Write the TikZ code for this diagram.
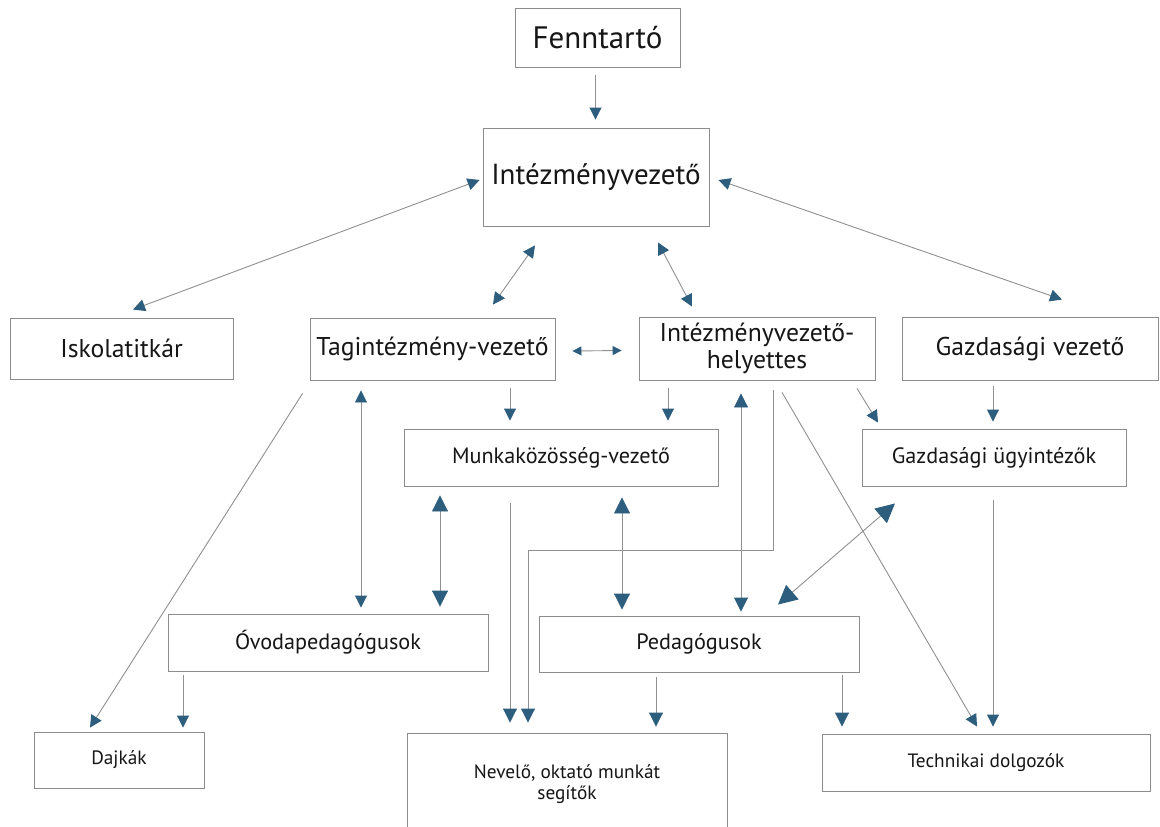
\documentclass[tikz,border=0pt]{standalone}
\usepackage{fontspec}
\setmainfont{PT Sans}
\usetikzlibrary{arrows.meta}
\definecolor{boxgray}{HTML}{8C8C8C}
\definecolor{linegray}{HTML}{909090}
\definecolor{tipblue}{HTML}{2E5E7E}
\definecolor{txt}{HTML}{161616}
\begin{document}
\begin{tikzpicture}[x=1pt,y=-1pt,
    box/.style={draw=boxgray,line width=0.9pt,inner sep=0pt,text=txt,align=center},
    fa/.style={font=\fontsize{29}{30}\selectfont},
    fb/.style={font=\fontsize{25.7}{27}\selectfont},
    fc/.style={font=\fontsize{22.2}{23}\selectfont},
    fd/.style={font=\fontsize{19.3}{21}\selectfont},
    arr/.style={draw=linegray,line width=0.9pt,-{Triangle[length=#1,width=#1,color=tipblue]}},
    arr/.default=12pt,
    darr/.style={draw=linegray,line width=0.9pt,{Triangle[length=#1,width=#1,color=tipblue]}-{Triangle[length=#1,width=#1,color=tipblue]}},
    darr/.default=12pt]
    \useasboundingbox (0,0) rectangle (1160,827);
    \clip (0,0) rectangle (1160,827);
    \fill[white] (0,0) rectangle (1160,827);

    \node[box,fa,minimum width=165pt,minimum height=59pt] (fenn) at (597.5,37.5) {\fontsize{31}{32}\selectfont Fenntartó};
    \node[box,fa,minimum width=226pt,minimum height=98pt] (iv) at (596,177) {Intézményvezető};
    \node[box,fb,minimum width=223pt,minimum height=61pt] (isk) at (121.5,348.5) {Iskolatitkár};
    \node[box,fb,minimum width=245pt,minimum height=62pt] (tag) at (432.5,349) {Tagintézmény-vezető};
    \node[box,fb,minimum width=236pt,minimum height=63pt] (hely) at (757,348.5) {Intézményvezető-\\helyettes};
    \node[box,fb,minimum width=256pt,minimum height=63pt] (gv) at (1030,348.5) {Gazdasági vezető};
    \node[box,fc,minimum width=314pt,minimum height=57pt] (mk) at (561,457.5) {Munkaközösség-vezető};
    \node[box,fc,minimum width=264pt,minimum height=57pt] (gu) at (994,457.5) {Gazdasági ügyintézők};
    \node[box,fc,minimum width=320pt,minimum height=57pt] (ovoda) at (328,642.5) {Óvodapedagógusok};
    \node[box,fc,minimum width=320pt,minimum height=56pt] (ped) at (699,644) {Pedagógusok};
    \node[box,fd,minimum width=170pt,minimum height=56pt] (dajka) at (119,760) {Dajkák};
    \node[box,fd,minimum width=320pt,minimum height=102pt] (nevelo) at (567,784) {Nevelő, oktató munkát\\segítők};
    \node[box,fd,minimum width=328pt,minimum height=57pt] (tech) at (986,762.5) {Technikai dolgozók};

    \draw[arr] ([xshift=-2pt,yshift=-8pt]fenn.south) -- ([xshift=-0.5pt,yshift=8pt]iv.north);
    \draw[darr] ([xshift=-3pt,yshift=-3pt]iv.west) -- ([xshift=11.5pt,yshift=8pt]isk.north);
    \draw[darr] ([xshift=-61pt,yshift=-19pt]iv.south) -- ([xshift=60.5pt,yshift=13pt]tag.north);
    \draw[darr] ([xshift=62pt,yshift=-16pt]iv.south) -- ([xshift=-65pt,yshift=10pt]hely.north);
    \draw[darr] ([xshift=9pt,yshift=-3pt]iv.east) -- ([xshift=32pt,yshift=17pt]gv.north);
    \draw[darr=9pt] ([xshift=17pt,yshift=-2pt]tag.east) -- ([xshift=-17pt,yshift=-2pt]hely.west);
    \draw[arr] ([xshift=77.5pt,yshift=-8pt]tag.south) -- ([xshift=-51pt,yshift=8pt]mk.north);
    \draw[arr] ([xshift=-89pt,yshift=-8pt]hely.south) -- ([xshift=107pt,yshift=8pt]mk.north);
    \draw[arr] ([xshift=100pt,yshift=-8pt]hely.south) -- ([xshift=-116pt,yshift=6pt]gu.north);
    \draw[arr] ([xshift=-37pt,yshift=-6pt]gv.south) -- ([xshift=-1pt,yshift=7pt]gu.north);
    \draw[arr] ([xshift=-7pt,yshift=-13pt]tag.south west) -- ([xshift=-29pt,yshift=4pt]dajka.north);
    \draw[darr] ([xshift=-71.5pt,yshift=-10pt]tag.south) -- ([xshift=33pt,yshift=6pt]ovoda.north);
    \draw[darr=16pt] ([xshift=-121pt,yshift=-9pt]mk.south) -- ([xshift=112pt,yshift=7pt]ovoda.north);
    \draw[arr=14pt] ([xshift=-51pt,yshift=-17pt]mk.south) -- ([xshift=-57pt,yshift=10pt]nevelo.north);
    \draw[arr=14pt] ([xshift=16pt,yshift=-10pt]hely.south) -- ++(0pt,-160pt) -| ([xshift=-39pt,yshift=10pt]nevelo.north);
    \draw[darr=16pt] ([xshift=61pt,yshift=-11pt]mk.south) -- ([xshift=-77pt,yshift=6pt]ped.north);
    \draw[darr=14pt] ([xshift=-16pt,yshift=-13pt]hely.south) -- ([xshift=42pt,yshift=4pt]ped.north);
    \draw[darr=19pt] ([xshift=-99pt,yshift=-17pt]gu.south) -- ([xshift=79pt,yshift=11pt]ped.north);
    \draw[arr] ([xshift=25pt,yshift=-12pt]hely.south) -- ([xshift=-9pt,yshift=7pt]tech.north);
    \draw[arr] ([xshift=-1pt,yshift=-14pt]gu.south) -- ([xshift=7pt,yshift=7pt]tech.north);
    \draw[arr] ([xshift=-145pt,yshift=-4pt]ovoda.south) -- ([xshift=64pt,yshift=4pt]dajka.north);
    \draw[arr=14pt] ([xshift=-43pt,yshift=-5pt]ped.south) -- ([xshift=89pt,yshift=6pt]nevelo.north);
    \draw[arr=14pt] ([xshift=143pt,yshift=-3pt]ped.south) -- ([xshift=-144pt,yshift=7pt]tech.north);
\end{tikzpicture}
\end{document}
